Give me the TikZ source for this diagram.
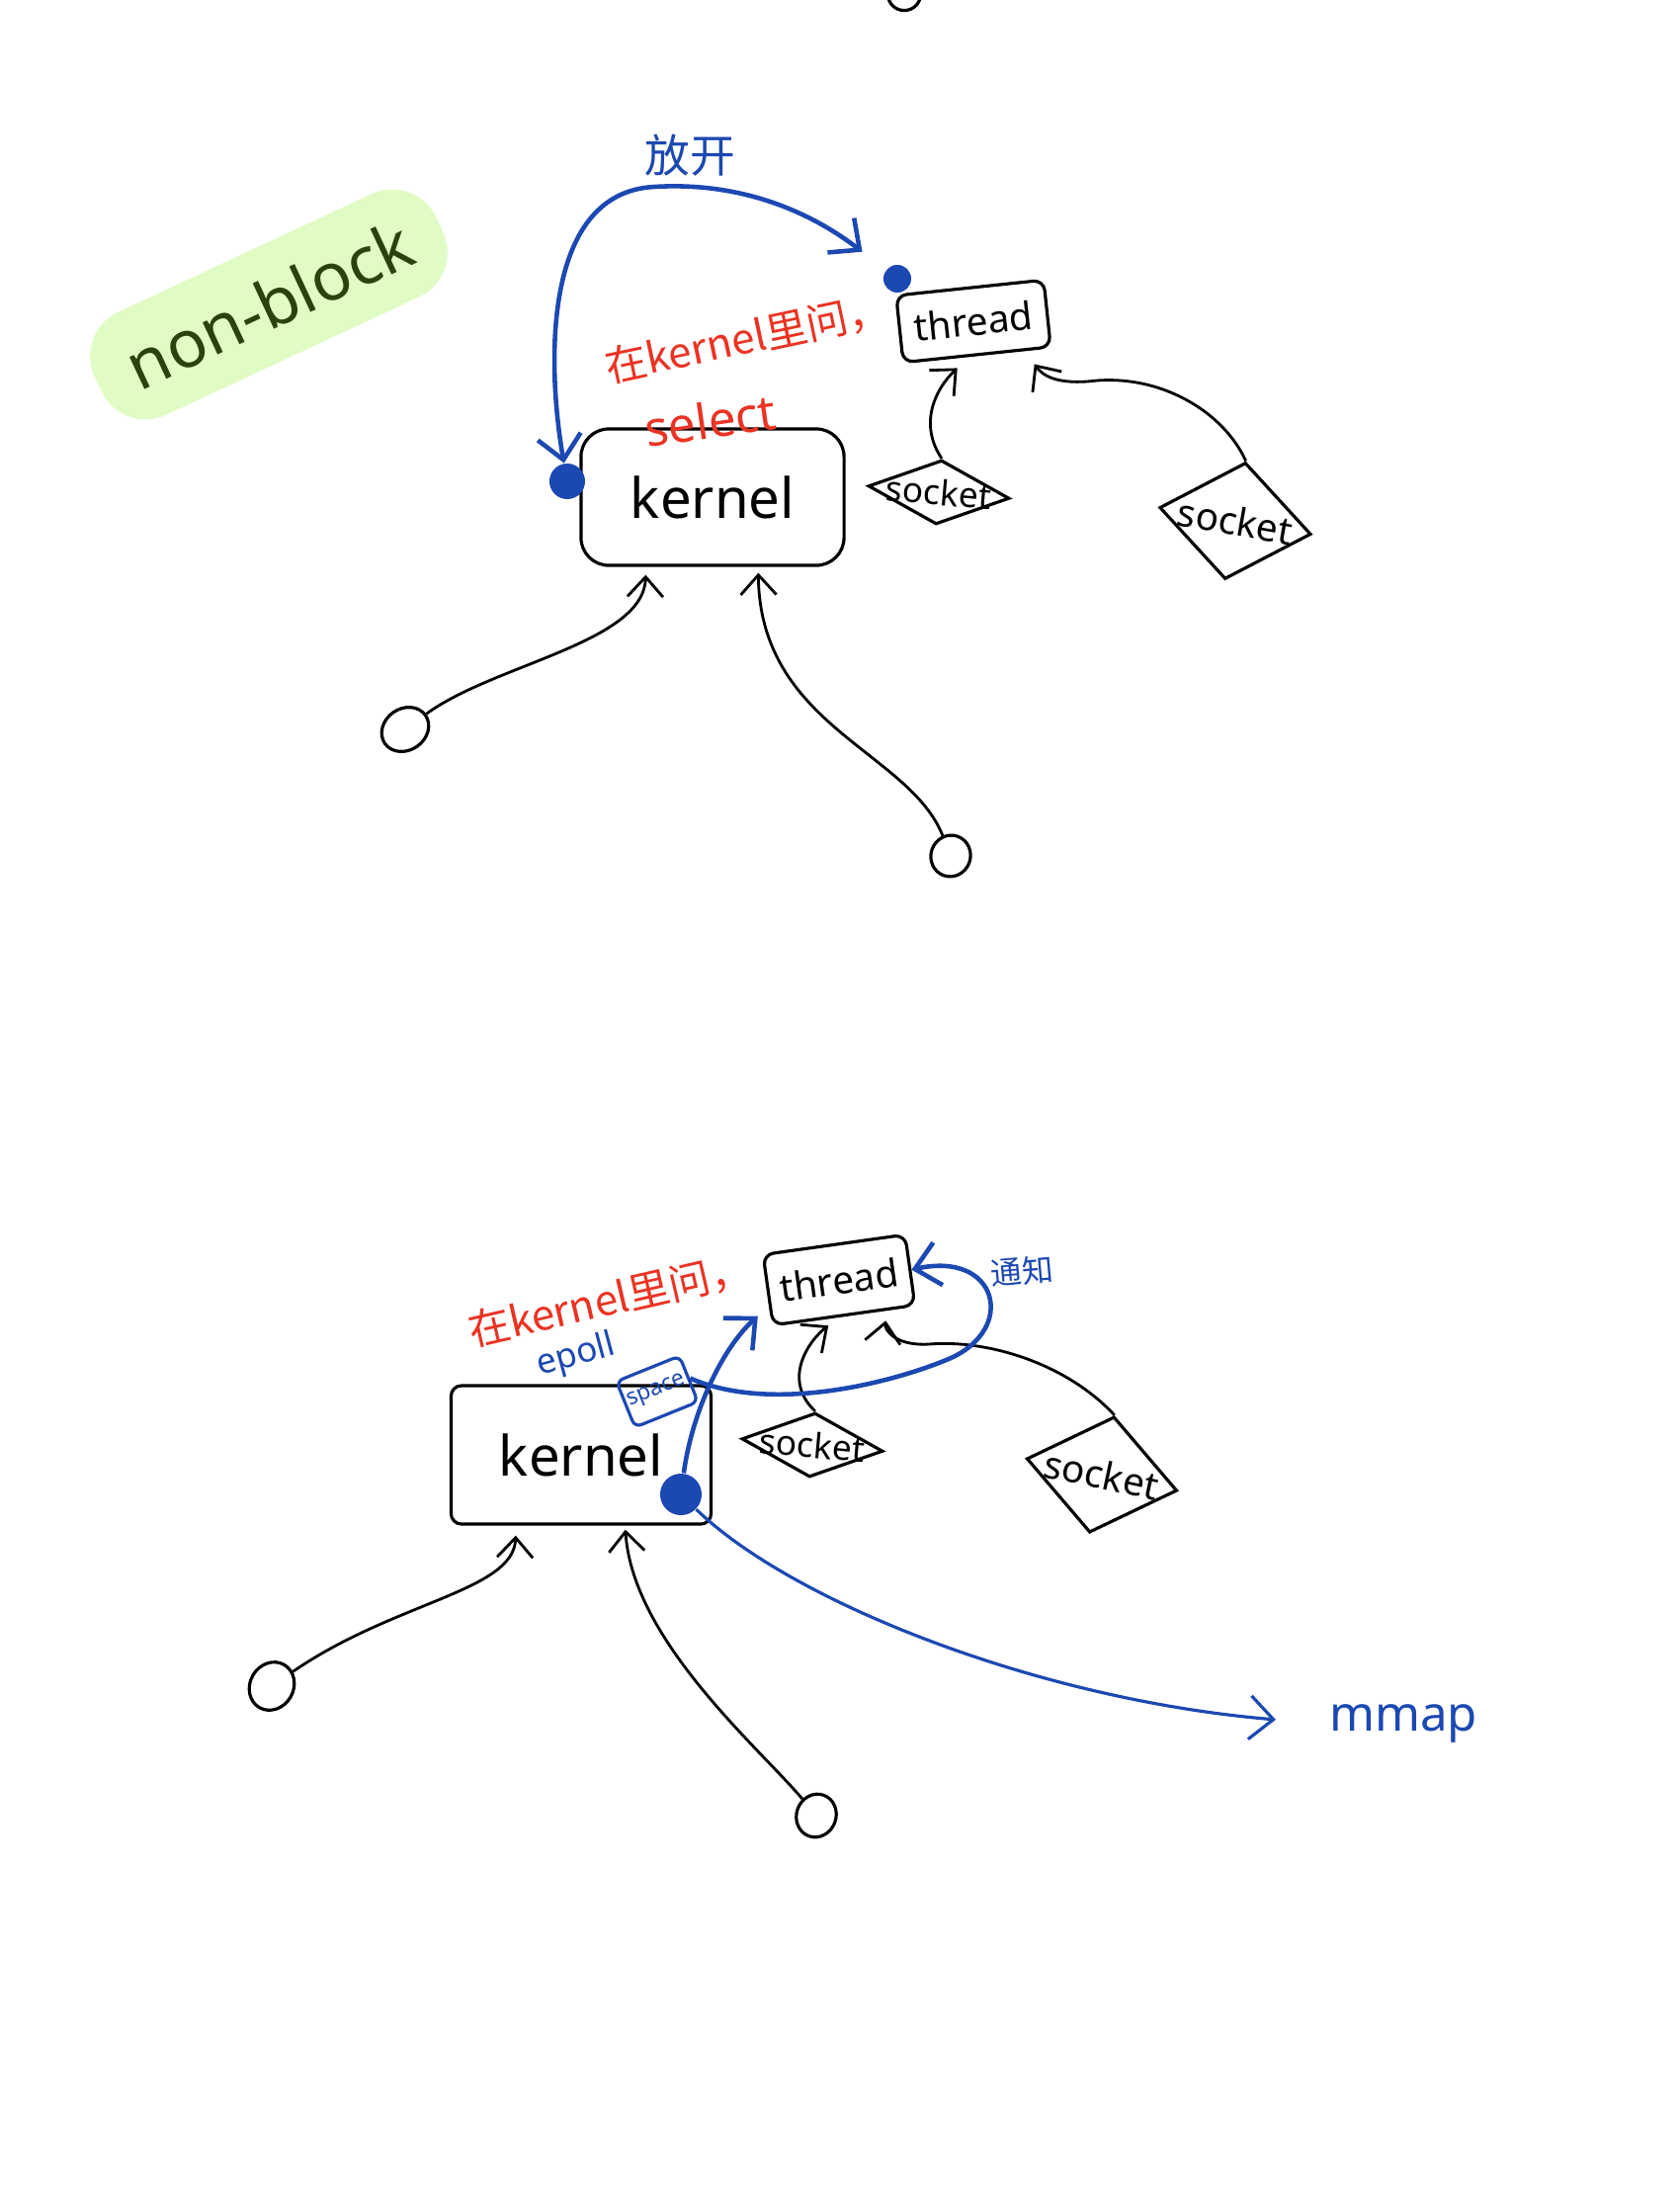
\documentclass[tikz,border=0pt]{standalone}
\usepackage{fontspec}
\setmainfont{Noto Sans}
\newfontfamily\cjk{Noto Sans CJK SC}
\usetikzlibrary{arrows.meta}
\usetikzlibrary{shapes.geometric}
\usetikzlibrary{calc}

\definecolor{penblue}{RGB}{28,72,178}
\definecolor{penred}{RGB}{234,51,35}
\definecolor{pengreen}{RGB}{42,66,12}
\definecolor{marker}{RGB}{224,251,196}

\newcommand{\fsz}[1]{\fontsize{#1}{#1}\selectfont}

\begin{document}
\begin{tikzpicture}[x=0.01cm,y=-0.01cm]
\useasboundingbox (0,0) rectangle (1700,2232);
\clip (0,0) rectangle (1700,2232);

\node[fill=marker, rounded corners=14pt, inner xsep=10pt, inner ysep=9pt,
      rotate=25, text=pengreen, font=\fsz{19}] (nonblock) at (272,308) {non-block};


\begin{scope}[
    every node/.style={
        draw,
        line width=0.9pt}]

    % select
    \node[rounded corners=8pt, minimum width=2.66cm, minimum height=1.38cm, font=\fsz{16}] (kern1) at (721,503) {kernel};
    \node[rounded corners=3pt, minimum width=1.5cm, minimum height=0.68cm, rotate=6, font=\fsz{11}] (thr1) at (985,325) {thread};
    \node[diamond, aspect=2.2, inner sep=-1pt, rotate=-5, font=\fsz{10}] (sock1) at (950,498) {socket};
    \node[diamond, aspect=1.3, inner sep=0pt, rotate=-10, font=\fsz{11}] (sock2) at (1250,527) {socket};
    \node[ellipse, minimum width=0.5cm, minimum height=0.42cm, rotate=35] (c1) at (410,738) {};
    \node[ellipse, minimum width=0.42cm, minimum height=0.4cm, rotate=70] (c2) at (962,866) {};
    \node[ellipse, minimum width=0.32cm, minimum height=0.28cm] (topc) at (915,-6) {};

    % epoll
    \node[rounded corners=3pt, minimum width=2.63cm, minimum height=1.40cm, font=\fsz{16}] (kern2) at (588,1472) {kernel};
    \node[rounded corners=3pt, minimum width=1.45cm, minimum height=0.72cm, rotate=8, font=\fsz{11}] (thr2) at (849,1295) {thread};
    \node[diamond, aspect=2.2, inner sep=-1pt, rotate=-5, font=\fsz{10}] (sock3) at (822,1462) {socket};
    \node[diamond, aspect=1.3, inner sep=0pt, rotate=-12, font=\fsz{11}] (sock4) at (1115,1492) {socket};
    \node[ellipse, minimum width=0.5cm, minimum height=0.44cm, rotate=60] (c3) at (275,1706) {};
    \node[ellipse, minimum width=0.44cm, minimum height=0.4cm, rotate=70] (c4) at (826,1837) {};
\end{scope}


\begin{scope}[
    every node/.style={
        inner sep=1pt}]

    \node[text=penred, rotate=8, font=\fsz{14}] (sel1) at (719,425) {select};
    \node[text=penred, rotate=12, font=\cjk\fsz{12}] (ask1) at (756,342) {在kernel里问，};
    \node[text=penblue, font=\cjk\fsz{13}] (letgo) at (698,157) {放开};

    \node[text=penred, rotate=13, font=\cjk\fsz{12}] (ask2) at (617,1315) {在kernel里问，};
    \node[text=penblue, rotate=15, font=\fsz{10}] (epoll) at (583,1372) {epoll};
    \node[draw=penblue, line width=0.9pt, rounded corners=2pt, rotate=22, text=penblue,
          minimum height=0.5cm, font=\fsz{6.5}] (spc) at (665,1408) {space};
    \node[text=penblue, rotate=5, font=\cjk\fsz{9}] (notify) at (1034,1286) {通知};
    \node[text=penblue, font=\fsz{14}] (mmap) at (1420,1744) {mmap};

    \node[circle, fill=penblue, minimum size=0.28cm] (dotA) at (908,282) {};
    \node[circle, fill=penblue, minimum size=0.36cm] (dotB) at (574,487) {};
    \node[circle, fill=penblue, minimum size=0.42cm] (dotC) at (689,1512) {};
\end{scope}


\begin{scope}[>={Straight Barb[length=2mm,width=3.6mm]},
              line width=0.8pt]

    \draw [->] (c1) .. controls (500,672) and (652,650) .. ($(kern1.south west)+(67,8)$);
    \draw [->] (c2) .. controls (920,760) and (769,735) .. ($(kern1.south west)+(181,6)$);
    \draw [->] (sock1.north) .. controls (930,430) and (945,395) .. ($(thr1.south)+(-20,12)$);
    \draw [->] (sock2.north) .. controls (1240,420) and (1180,380) .. (1110,385)
                             .. controls (1070,390) and (1055,380) .. ($(thr1.south)+(58,8)$);

    \draw [->] (c3) .. controls (400,1620) and (520,1610) .. ($(kern2.south west)+(67,10)$);
    \draw [->] (c4) .. controls (770,1770) and (640,1660) .. ($(kern2.south west)+(178,4)$);
    \draw [->] (sock3.north) .. controls (790,1395) and (820,1355) .. ($(thr2.south)+(-16,9)$);
    \draw [->] (sock4.north) .. controls (1080,1380) and (1000,1355) .. (940,1360)
                             .. controls (905,1362) and (895,1345) .. ($(thr2.south)+(42,4)$);
\end{scope}


\begin{scope}[>={Straight Barb[length=2.4mm,width=4.4mm]},
              draw=penblue, line width=1.3pt]

    \draw [<->, shorten >=0.3cm] (dotB) .. controls (555,380) and (545,195) .. (662,189)
                                 .. controls (760,183) and (830,222) .. (dotA);
    \draw [->] (dotC) .. controls (700,1430) and (730,1365) .. ($(thr2.south west)+(-14,-11)$);
    \draw [->] (spc.east) .. controls (780,1430) and (900,1400) .. (960,1375)
                          .. controls (1030,1345) and (1010,1265) .. (thr2.east);
    \draw [->, line width=0.9pt, shorten >=0.5cm] (dotC) .. controls (800,1620) and (1050,1720) .. (mmap.west);
\end{scope}
\end{tikzpicture}
\end{document}
